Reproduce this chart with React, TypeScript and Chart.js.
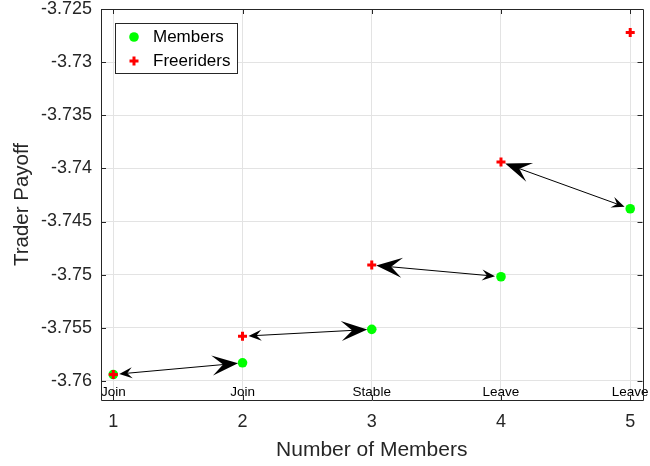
import React, { useEffect, useRef } from "react";
import { Chart, registerables } from "chart.js";
Chart.register(...registerables);

const memberCounts = [1, 2, 3, 4, 5];
const membersPayoff = [-3.7594, -3.7583, -3.75515, -3.7502, -3.7438];
const freeridersPayoff = [-3.7594, -3.7558, -3.7491, -3.7394, -3.7272];
const statusLabels = ["Join", "Join", "Stable", "Leave", "Leave"];
const xTicks = [1, 2, 3, 4, 5];
const yTicks = [-3.76, -3.755, -3.75, -3.745, -3.74, -3.735, -3.73, -3.725];
// arrow i links freerider at memberCounts[i] with member at memberCounts[i+1]
const arrowBigHeadAtMember = [true, true, false, false];

const FONT = "'Liberation Sans', Arial, Helvetica, sans-serif";
const AXIS = "#262626";
const GREEN = "#00ff00";
const RED = "#ff0000";

function drawHead(ctx: CanvasRenderingContext2D, tx: number, ty: number, ux: number, uy: number, L: number, W: number, N: number) {
  const px = -uy, py = ux;
  const bx = tx - ux * L, by = ty - uy * L;
  const nx = tx - ux * N, ny = ty - uy * N;
  ctx.beginPath();
  ctx.moveTo(tx, ty);
  ctx.lineTo(bx + px * W, by + py * W);
  ctx.lineTo(nx, ny);
  ctx.lineTo(bx - px * W, by - py * W);
  ctx.closePath();
  ctx.fill();
}

const arrowsPlugin = {
  id: "arrows",
  afterDatasetsDraw(chart: any) {
    const { ctx, scales } = chart;
    const xs = scales.x, ys = scales.y;
    ctx.save();
    ctx.strokeStyle = "#000";
    ctx.fillStyle = "#000";
    ctx.lineWidth = 1;
    for (let i = 0; i < memberCounts.length - 1; i++) {
      const fx = xs.getPixelForValue(memberCounts[i]);
      const fy = ys.getPixelForValue(freeridersPayoff[i]);
      const mx = xs.getPixelForValue(memberCounts[i + 1]);
      const my = ys.getPixelForValue(membersPayoff[i + 1]);
      let bigX, bigY, smX, smY;
      if (arrowBigHeadAtMember[i]) {
        bigX = mx; bigY = my; smX = fx; smY = fy;
      } else {
        bigX = fx; bigY = fy; smX = mx; smY = my;
      }
      const dx = bigX - smX, dy = bigY - smY;
      const len = Math.hypot(dx, dy);
      const ux = dx / len, uy = dy / len;
      const bigTipX = bigX - ux * 4.5, bigTipY = bigY - uy * 4.5;
      const smTipX = smX + ux * 6, smTipY = smY + uy * 6;
      ctx.beginPath();
      ctx.moveTo(smTipX + ux * 6, smTipY + uy * 6);
      ctx.lineTo(bigTipX - ux * 15, bigTipY - uy * 15);
      ctx.stroke();
      drawHead(ctx, bigTipX, bigTipY, ux, uy, 26, 10, 15);
      drawHead(ctx, smTipX, smTipY, -ux, -uy, 13, 5.5, 8);
    }
    ctx.restore();
  },
  afterDraw(chart: any) {
    const { ctx, scales, chartArea } = chart;
    const { left, right, top, bottom } = chartArea;
    const xs = scales.x, ys = scales.y;
    ctx.save();
    ctx.fillStyle = "#000";
    ctx.font = `13.5px ${FONT}`;
    ctx.textAlign = "center";
    ctx.textBaseline = "alphabetic";
    statusLabels.forEach((s, i) => {
      ctx.fillText(s, xs.getPixelForValue(memberCounts[i]), bottom - 4);
    });
    ctx.strokeStyle = AXIS;
    ctx.lineWidth = 1;
    ctx.beginPath();
    ctx.rect(Math.round(left) + 0.5, Math.round(top) + 0.5, Math.round(right - left), Math.round(bottom - top));
    ctx.stroke();
    ctx.beginPath();
    xTicks.forEach((v) => {
      const x = Math.round(xs.getPixelForValue(v)) + 0.5;
      ctx.moveTo(x, bottom);
      ctx.lineTo(x, bottom - 5);
      ctx.moveTo(x, top);
      ctx.lineTo(x, top + 5);
    });
    yTicks.forEach((v) => {
      const y = Math.round(ys.getPixelForValue(v)) + 0.5;
      ctx.moveTo(left, y);
      ctx.lineTo(left + 5, y);
      ctx.moveTo(right, y);
      ctx.lineTo(right - 5, y);
    });
    ctx.stroke();
    const lx = 115, ly = 23, lw = 122, lh = 50;
    ctx.fillStyle = "#fff";
    ctx.fillRect(lx, ly, lw, lh);
    ctx.strokeStyle = AXIS;
    ctx.strokeRect(lx + 0.5, ly + 0.5, lw, lh);
    ctx.fillStyle = GREEN;
    ctx.beginPath();
    ctx.arc(134, 37, 4.8, 0, Math.PI * 2);
    ctx.fill();
    ctx.strokeStyle = RED;
    ctx.lineWidth = 3;
    ctx.beginPath();
    ctx.moveTo(129.5, 61);
    ctx.lineTo(138.5, 61);
    ctx.moveTo(134, 56.5);
    ctx.lineTo(134, 65.5);
    ctx.stroke();
    ctx.fillStyle = "#000";
    ctx.font = `17px ${FONT}`;
    ctx.textAlign = "left";
    ctx.textBaseline = "middle";
    ctx.fillText("Members", 153, 37.5);
    ctx.fillText("Freeriders", 153, 61.5);
    ctx.restore();
  },
};

function zeroPad(s: any) {
  s.paddingTop = 0;
  s.paddingBottom = 0;
  s.paddingLeft = 0;
  s.paddingRight = 0;
}

export default function App() {
  const ref = useRef<HTMLCanvasElement | null>(null);
  useEffect(() => {
    if (!ref.current) return;
    const chart = new Chart(ref.current, {
      type: "scatter",
      data: {
        datasets: [
          {
            label: "Members",
            data: memberCounts.map((x, i) => ({ x, y: membersPayoff[i] })),
            pointStyle: "circle",
            pointRadius: 4.8,
            backgroundColor: GREEN,
            borderColor: GREEN,
            borderWidth: 0,
            order: 1,
            clip: false as any,
          },
          {
            label: "Freeriders",
            data: memberCounts.map((x, i) => ({ x, y: freeridersPayoff[i] })),
            pointStyle: "cross",
            pointRadius: 4.5,
            backgroundColor: RED,
            borderColor: RED,
            borderWidth: 3,
            order: 0,
            clip: false as any,
          },
        ],
      },
      options: {
        animation: false,
        responsive: false,
        maintainAspectRatio: false,
        layout: { padding: { top: 9, right: 6, bottom: 0, left: 0 } },
        plugins: { legend: { display: false }, tooltip: { enabled: false } },
        scales: {
          x: {
            type: "linear",
            min: 0.905,
            max: 5.095,
            afterBuildTicks: (s: any) => {
              s.ticks = xTicks.map((v) => ({ value: v }));
            },
            afterFit: (s: any) => {
              s.height = 66;
              zeroPad(s);
            },
            grid: { color: "#e3e3e3", drawTicks: false },
            border: { display: false },
            ticks: {
              color: AXIS,
              font: { family: FONT, size: 18 },
              padding: 11,
              callback: (v: any) => String(v),
            },
            title: {
              display: true,
              text: "Number of Members",
              color: AXIS,
              font: { family: FONT, size: 21 },
              padding: { top: 0, bottom: 3 },
            },
          },
          y: {
            type: "linear",
            min: -3.7618,
            max: -3.725,
            afterBuildTicks: (s: any) => {
              s.ticks = yTicks.map((v) => ({ value: v }));
            },
            afterFit: (s: any) => {
              s.width = 101;
              zeroPad(s);
            },
            grid: { color: "#e3e3e3", drawTicks: false },
            border: { display: false },
            ticks: {
              color: AXIS,
              font: { family: FONT, size: 18 },
              padding: 9,
              callback: (v: any) => String(Number(Number(v).toFixed(3))),
            },
            title: {
              display: true,
              text: "Trader Payoff",
              color: AXIS,
              font: { family: FONT, size: 20.5 },
              padding: { top: 10, bottom: 0 },
            },
          },
        },
      },
      plugins: [arrowsPlugin],
    } as any);
    return () => chart.destroy();
  }, []);
  return (
    <div style={{ position: "fixed", left: 0, top: 0, width: 650, height: 466, background: "#fff" }}>
      <canvas ref={ref} width={650} height={466} style={{ width: 650, height: 466, display: "block" }} />
    </div>
  );
}
